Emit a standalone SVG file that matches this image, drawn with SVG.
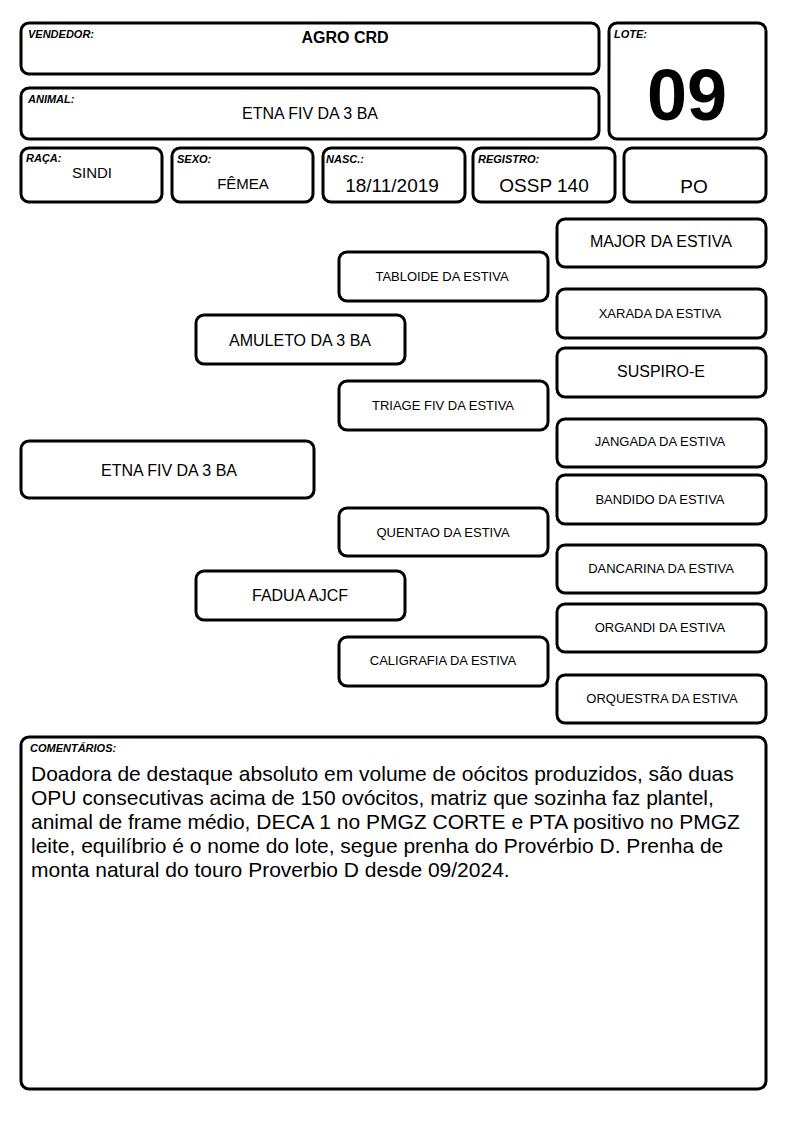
<svg xmlns="http://www.w3.org/2000/svg" width="794" height="1123" viewBox="0 0 794 1123">
<style>
.b{fill:#fff;stroke:#000;stroke-width:3}
.lbl{font-family:"Liberation Sans",Arial,sans-serif;font-size:11px;font-weight:bold;font-style:italic;fill:#000}
.t{font-family:"Liberation Sans",Arial,sans-serif;fill:#000;text-anchor:middle}
.s13{font-size:13px}
.s16{font-size:16px}
.s17{font-size:19px}
.c{font-family:"Liberation Sans",Arial,sans-serif;font-size:21px;fill:#000}
</style>
<rect width="794" height="1123" fill="#fff"/>
<g id="vendedor"><rect class="b" x="21" y="23" width="578" height="51" rx="8"/><text class="lbl" x="28" y="38">VENDEDOR:</text><text class="t" x="345" y="43" style="font-size:16px;font-weight:bold">AGRO CRD</text></g>
<g id="animal"><rect class="b" x="21" y="88" width="578" height="51" rx="8"/><text class="lbl" x="28" y="103">ANIMAL:</text><text class="t s16" x="310" y="119">ETNA FIV DA 3 BA</text></g>
<g id="lote"><rect class="b" x="609" y="23" width="157" height="116" rx="8"/><text class="lbl" x="614" y="38">LOTE:</text><text class="t" x="687" y="120" style="font-size:72px;font-weight:bold">09</text></g>
<g id="raca"><rect class="b" x="21" y="148" width="141" height="54" rx="8"/><text class="lbl" x="26" y="162">RAÇA:</text><text class="t" x="92" y="178" style="font-size:15px">SINDI</text></g>
<g id="sexo"><rect class="b" x="172" y="148" width="141" height="54" rx="8"/><text class="lbl" x="177" y="163">SEXO:</text><text class="t" x="243" y="189" style="font-size:15px">FÊMEA</text></g>
<g id="nasc"><rect class="b" x="323" y="148" width="142" height="54" rx="8"/><text class="lbl" x="326" y="163">NASC.:</text><text class="t s17" x="392" y="192">18/11/2019</text></g>
<g id="registro"><rect class="b" x="473" y="148" width="142" height="54" rx="8"/><text class="lbl" x="478" y="163">REGISTRO:</text><text class="t s17" x="544" y="192">OSSP 140</text></g>
<g id="po"><rect class="b" x="624" y="148" width="142" height="54" rx="8"/><text class="t s17" x="694" y="193">PO</text></g>

<g id="connectors"></g>

<g id="etna"><rect class="b" x="21" y="441" width="293" height="57" rx="8"/><text class="t s16" x="169" y="476">ETNA FIV DA 3 BA</text></g>
<g id="amuleto"><rect class="b" x="196" y="315" width="209" height="49" rx="8"/><text class="t s16" x="300" y="346">AMULETO DA 3 BA</text></g>
<g id="fadua"><rect class="b" x="196" y="571" width="209" height="49" rx="8"/><text class="t s16" x="300" y="601">FADUA AJCF</text></g>
<g id="tabloide"><rect class="b" x="339" y="252" width="209" height="49" rx="8"/><text class="t s13" x="442" y="281">TABLOIDE DA ESTIVA</text></g>
<g id="triage"><rect class="b" x="339" y="381" width="209" height="49" rx="8"/><text class="t s13" x="443" y="410">TRIAGE FIV DA ESTIVA</text></g>
<g id="quentao"><rect class="b" x="339" y="508" width="209" height="48" rx="8"/><text class="t s13" x="443" y="537">QUENTAO DA ESTIVA</text></g>
<g id="caligrafia"><rect class="b" x="339" y="637" width="209" height="49" rx="8"/><text class="t s13" x="443" y="665">CALIGRAFIA DA ESTIVA</text></g>
<g id="major"><rect class="b" x="557" y="219" width="209" height="48" rx="8"/><text class="t s16" x="661" y="247">MAJOR DA ESTIVA</text></g>
<g id="xarada"><rect class="b" x="557" y="289" width="209" height="49" rx="8"/><text class="t s13" x="660" y="318">XARADA DA ESTIVA</text></g>
<g id="suspiro"><rect class="b" x="557" y="348" width="209" height="49" rx="8"/><text class="t s16" x="661" y="377">SUSPIRO-E</text></g>
<g id="jangada"><rect class="b" x="557" y="419" width="209" height="48" rx="8"/><text class="t s13" x="660" y="446">JANGADA DA ESTIVA</text></g>
<g id="bandido"><rect class="b" x="557" y="475" width="209" height="49" rx="8"/><text class="t s13" x="660" y="504">BANDIDO DA ESTIVA</text></g>
<g id="dancarina"><rect class="b" x="557" y="545" width="209" height="48" rx="8"/><text class="t s13" x="661" y="573">DANCARINA DA ESTIVA</text></g>
<g id="organdi"><rect class="b" x="557" y="604" width="209" height="48" rx="8"/><text class="t s13" x="660" y="632">ORGANDI DA ESTIVA</text></g>
<g id="orquestra"><rect class="b" x="557" y="675" width="209" height="48" rx="8"/><text class="t s13" x="662" y="703">ORQUESTRA DA ESTIVA</text></g>

<g id="comentarios"><rect class="b" x="21" y="737" width="745" height="352" rx="8"/><text class="lbl" x="30" y="752">COMENTÁRIOS:</text>
<text class="c" x="31" y="781">Doadora de destaque absoluto em volume de oócitos produzidos, são duas</text>
<text class="c" x="31" y="805">OPU consecutivas acima de 150 ovócitos, matriz que sozinha faz plantel,</text>
<text class="c" x="31" y="829">animal de frame médio, DECA 1 no PMGZ CORTE e PTA positivo no PMGZ</text>
<text class="c" x="31" y="853">leite, equilíbrio é o nome do lote, segue prenha do Provérbio D. Prenha de</text>
<text class="c" x="31" y="877">monta natural do touro Proverbio D desde 09/2024.</text>
</g>
</svg>
